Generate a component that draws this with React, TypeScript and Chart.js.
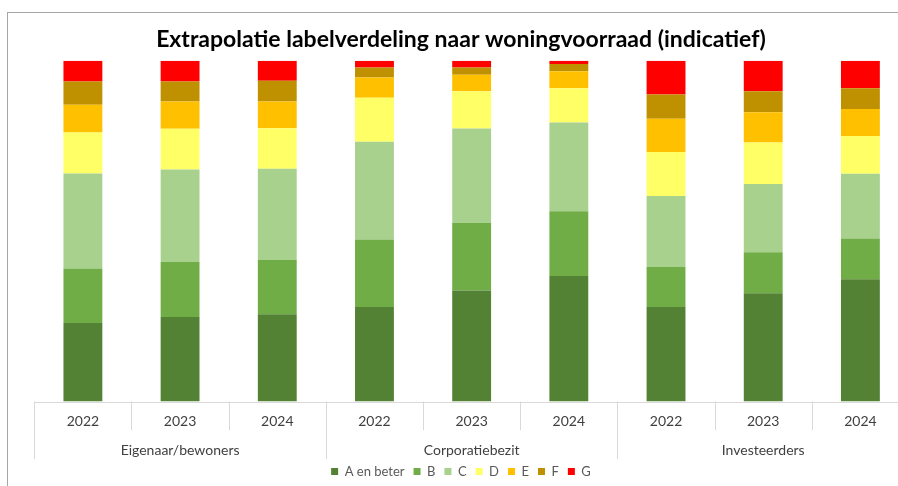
import React, { useEffect, useRef } from "react";
import { Chart, registerables } from "chart.js";

Chart.register(...registerables);

const TITLE = "Extrapolatie labelverdeling naar woningvoorraad (indicatief)";
const GROUPS = ["Eigenaar/bewoners", "Corporatiebezit", "Investeerders"];
const YEARS = ["2022", "2023", "2024"];
const CATEGORIES = GROUPS.flatMap((g) => YEARS.map((y) => `${g} ${y}`));

const SERIES_LABELS = ["A en beter", "B", "C", "D", "E", "F", "G"];
const SERIES_COLORS = ["#548235", "#70AD47", "#A9D18E", "#FFFF66", "#FFC000", "#BF9000", "#FF0000"];

const A_EN_BETER = [23.0, 24.8, 25.6, 27.7, 32.6, 36.8, 27.7, 31.8, 35.9];
const B = [16.0, 16.1, 15.9, 19.8, 19.8, 19.0, 11.8, 12.0, 11.9];
const C = [27.9, 27.2, 26.8, 28.7, 27.7, 26.1, 20.8, 20.0, 19.0];
const D = [12.0, 11.9, 11.9, 12.9, 10.9, 10.0, 12.9, 12.2, 11.1];
const E = [8.2, 8.0, 7.8, 6.0, 4.9, 5.0, 9.8, 8.9, 7.9];
const F = [6.8, 5.9, 6.1, 2.9, 2.1, 2.1, 7.1, 6.1, 6.1];
const G = [6.1, 6.1, 5.9, 2.0, 2.0, 1.0, 9.9, 9.0, 8.1];

const SERIES_VALUES = [A_EN_BETER, B, C, D, E, F, G];

const W = 922;
const H = 490;
const FONT = "Lato, 'Open Sans', sans-serif";

const framePlugin = {
  id: "frame",
  beforeDraw(chart: any) {
    const ctx = chart.ctx;
    ctx.save();
    ctx.fillStyle = "#ffffff";
    ctx.fillRect(0, 0, chart.width, chart.height);
    ctx.strokeStyle = "#a6a6a6";
    ctx.lineWidth = 1;
    ctx.strokeRect(7.5, 12.5, 906, 520);
    ctx.restore();
  },
};

const axisPlugin = {
  id: "groupAxis",
  afterDraw(chart: any) {
    const ctx = chart.ctx;
    const xs = chart.scales.x;
    const { left, right, bottom } = chart.chartArea;
    const n = CATEGORIES.length;
    ctx.save();
    ctx.strokeStyle = "#d9d9d9";
    ctx.lineWidth = 1;
    ctx.beginPath();
    ctx.moveTo(left, Math.round(bottom) + 0.5);
    ctx.lineTo(right, Math.round(bottom) + 0.5);
    ctx.stroke();
    for (let i = 0; i <= n; i++) {
      let x: number;
      if (i === 0) x = left;
      else if (i === n) x = right;
      else x = (xs.getPixelForValue(i - 1) + xs.getPixelForValue(i)) / 2;
      const isGroup = i % YEARS.length === 0;
      const xx = Math.round(x) + 0.5;
      ctx.beginPath();
      ctx.moveTo(xx, bottom);
      ctx.lineTo(xx, bottom + (isGroup ? 57.5 : 28.5));
      ctx.stroke();
    }
    ctx.textAlign = "center";
    ctx.textBaseline = "middle";
    ctx.fillStyle = "#404040";
    ctx.font = `14px ${FONT}`;
    for (let i = 0; i < n; i++) {
      ctx.fillText(YEARS[i % YEARS.length], xs.getPixelForValue(i), bottom + 19.5);
    }
    GROUPS.forEach((g, gi) => {
      const mid = xs.getPixelForValue(gi * YEARS.length + 1);
      ctx.fillText(g, mid, bottom + 48.5);
    });
    ctx.restore();
  },
};

export default function App() {
  const ref = useRef<HTMLCanvasElement | null>(null);

  useEffect(() => {
    if (!ref.current) return;
    const chart = new Chart(ref.current, {
      type: "bar",
      data: {
        labels: CATEGORIES,
        datasets: SERIES_LABELS.map((label, i) => ({
          label,
          data: SERIES_VALUES[i],
          backgroundColor: SERIES_COLORS[i],
          borderWidth: 0,
          categoryPercentage: 1,
          barPercentage: 0.4,
        })),
      },
      options: {
        animation: false,
        responsive: false,
        devicePixelRatio: 1,
        layout: { padding: { left: 7, right: 7, top: 12, bottom: 2 } },
        plugins: {
          title: {
            display: true,
            text: TITLE,
            color: "#000000",
            font: { family: FONT, size: 23, weight: "bold", lineHeight: 1.2 },
            padding: { top: 14.2, bottom: 6.9 },
          },
          legend: {
            position: "bottom",
            labels: {
              boxWidth: 7,
              boxHeight: 7,
              padding: 9,
              color: "#595959",
              font: { family: FONT, size: 13 },
            },
          },
          tooltip: { enabled: false },
        },
        scales: {
          x: {
            stacked: true,
            display: true,
            ticks: { display: false },
            grid: { display: false },
            border: { display: false },
            afterFit(scale: any) {
              scale.height = 54.5;
            },
          },
          y: {
            stacked: true,
            min: 0,
            max: 100,
            display: true,
            ticks: { display: false },
            grid: { display: false },
            border: { display: false },
            afterFit(scale: any) {
              scale.width = 27.3;
            },
          },
          y2: {
            position: "right",
            display: true,
            ticks: { display: false },
            grid: { display: false },
            border: { display: false },
            afterFit(scale: any) {
              scale.width = 6;
            },
          },
        },
      },
      plugins: [framePlugin, axisPlugin],
    });
    return () => chart.destroy();
  }, []);

  return (
    <div style={{ position: "fixed", left: 0, top: 0, width: W, height: H }}>
      <canvas ref={ref} width={W} height={H} style={{ display: "block", width: W, height: H }} />
    </div>
  );
}
